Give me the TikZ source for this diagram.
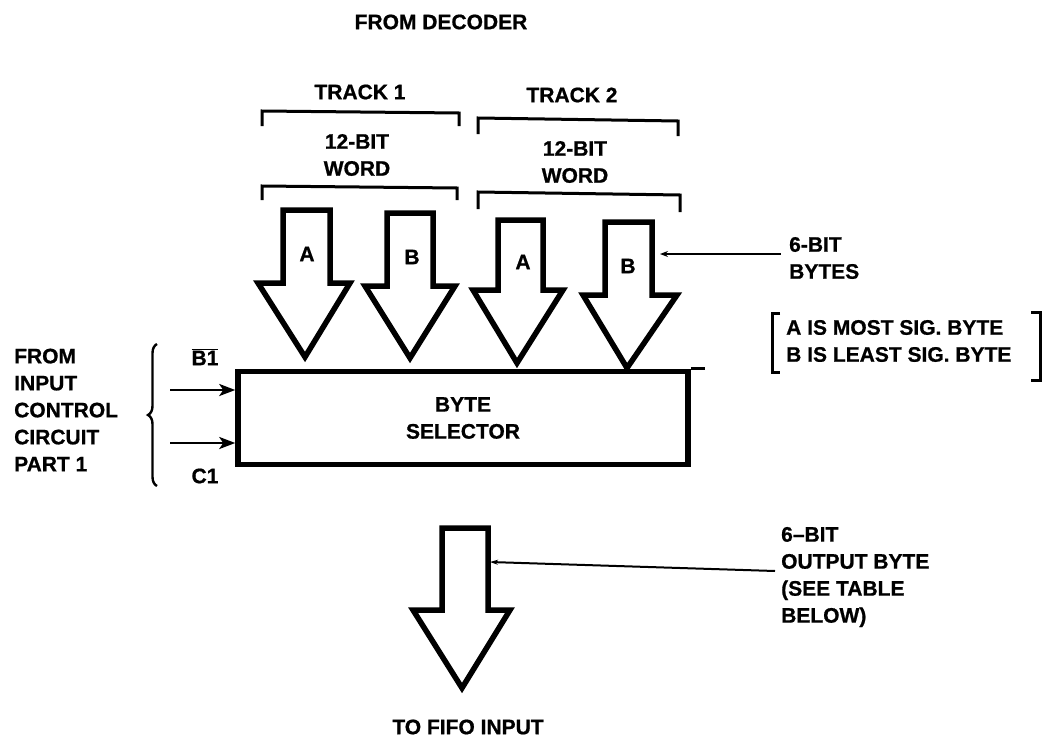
\documentclass[tikz,border=0pt]{standalone}
\usepackage{fontspec}
\setmainfont[BoldFeatures={FakeBold=0.8}]{Liberation Sans}
\usetikzlibrary{decorations.pathreplacing,arrows.meta}
\begin{document}
\begin{tikzpicture}[x=1pt,y=-1pt,
  lbl/.style={font=\bfseries\fontsize{21}{27}\selectfont, inner sep=0pt, align=center},
  lbll/.style={lbl, align=left, anchor=west},
  fat/.style={line width=5.5pt, line join=miter},
  brk/.style={line width=3pt},
  ptr/.style={line width=2pt},
  ]
\useasboundingbox (0,0) rectangle (1049,752);

% titles
\node[lbl] (dec) at (441,22) {FROM DECODER};
\node[lbl] (t1) at (360,92) {TRACK 1};
\node[lbl] (t2) at (572,95) {TRACK 2};
\node[lbl] (w1) at (357,155) {12-BIT\\WORD};
\node[lbl] (w2) at (575,162) {12-BIT\\WORD};

% brackets
\draw[brk] (262,126) -- (262,111) -- (459,113) -- (459,126);
\draw[brk] (478,134) -- (478,118) -- (678,121) -- (678,136);
\draw[brk] (262,200) -- (262,186) -- (457,188) -- (457,200);
\draw[brk] (478,209) -- (478,192) -- (680,195) -- (680,212);

% fat arrows
\draw[fat] (283,210) -- (330,210) -- (330,283) -- (350,283) -- (305,357) -- (258,283) -- (283,283) -- cycle;
\draw[fat] (387,213) -- (433,213) -- (433,286) -- (455,286) -- (410,358) -- (365,286) -- (387,286) -- cycle;
\draw[fat] (498,220) -- (543,220) -- (543,290) -- (563,290) -- (517,363) -- (473,290) -- (498,290) -- cycle;
\draw[fat] (605,222) -- (652,222) -- (652,295) -- (677,295) -- (627,368) -- (583,295) -- (605,295) -- cycle;
\node[lbl] (a1) at (307,254) {A};
\node[lbl] (b1) at (412,257) {B};
\node[lbl] (a2) at (523,262) {A};
\node[lbl] (b2) at (628,266) {B};

% 6-bit bytes label
\node[lbll] (bytes) at (789,258) {6-BIT\\BYTES};
\coordinate (bp) at (660,254);
\coordinate (be) at (781,254);
\draw[ptr,{Stealth[length=8pt,width=6pt]}-] (bp) -- (be);
\node[lbll] (sig) at (786,341) {A IS MOST SIG. BYTE\\B IS LEAST SIG. BYTE};
\draw[brk] (780,313) -- (772,313) -- (772,372) -- (780,372);
\draw[brk] (1031,312) -- (1040,312) -- (1040,380) -- (1031,380);

% byte selector
\node[draw, line width=5.5pt, minimum width=450pt, minimum height=93pt, lbl] (sel) at (463,418) {BYTE\\SELECTOR};
\draw[line width=3pt] (sel.north east) -- ++(14,0);

% inputs
\node[lbl] (b1n) at (205,357) {$\overline{\hbox{B1}}$};
\node[lbl] (c1n) at (205,476) {C1};
\coordinate (in1) at (170,390);
\coordinate (in2) at (170,443);
\draw[line width=2.6pt,-{Stealth[length=16pt,width=12pt,inset=4pt]}] (in1) -- (sel.west |- in1);
\draw[line width=2.6pt,-{Stealth[length=16pt,width=12pt,inset=4pt]}] (in2) -- (sel.west |- in2);
\draw[line width=2.4pt, decorate, decoration={brace, amplitude=9pt}] (157,486) -- (157,344);
\node[lbll] (from) at (14,410) {FROM\\INPUT\\CONTROL\\CIRCUIT\\PART 1};

% output arrow
\draw[fat] (442,528) -- (488,528) -- (488,610) -- (510,610) -- (462,688) -- (413,610) -- (442,610) -- cycle;
\node[lbll] (outl) at (781,577) {6--BIT\\OUTPUT BYTE\\(SEE TABLE\\BELOW)};
\coordinate (op) at (490,562);
\coordinate (oe) at (775,571);
\draw[ptr,{Stealth[length=8pt,width=5pt]}-] (op) -- (oe);
\node[lbl] (fifo) at (468,727) {TO FIFO INPUT};
\end{tikzpicture}
\end{document}
